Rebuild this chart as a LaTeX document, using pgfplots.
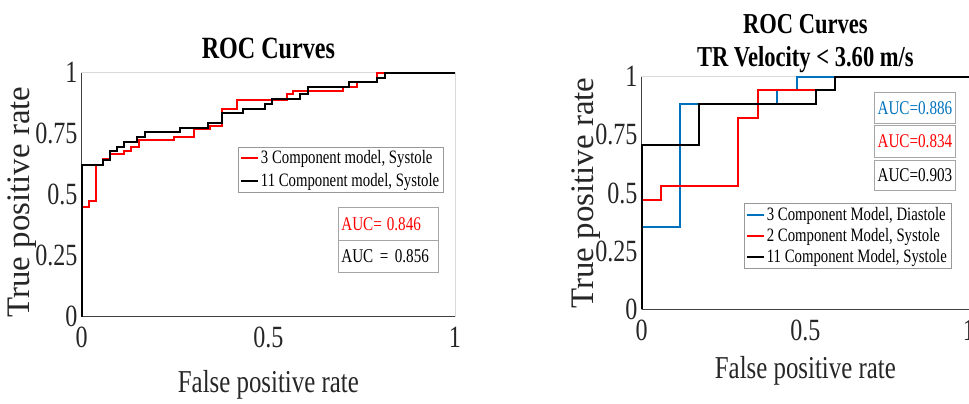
\documentclass[border=0pt]{standalone}
\usepackage{fontspec}
\setmainfont{Liberation Serif}[FakeStretch=0.78]
\newfontfamily\plainserif{Liberation Serif}
\usepackage{pgfplots}
\pgfplotsset{compat=1.18}

\definecolor{mblue}{rgb}{0,0.447,0.741}

\pgfplotsset{
  rocaxis/.style={
    scale only axis,
    clip=false,
    xmin=0, xmax=1, ymin=0, ymax=1,
    xtick={0,0.5,1}, xticklabels={0,0.5,1},
    ytick={0,0.25,0.5,0.75,1}, yticklabels={0,0.25,0.5,0.75,1},
    axis lines*=left,
    axis line style={draw=black!75, line width=0.9bp, -},
    axis background/.style={draw=black!15, line width=0.8bp},
    major tick length=0pt,
    /pgf/number format/assume math mode=true,
    tick label style={font=\fontsize{31}{33}\selectfont, text=black!85},
    yticklabel style={inner xsep=4bp},
    xticklabel style={yshift=-7bp},
    every axis x label/.style={at={(0.5,0)}, anchor=base, font=\fontsize{32}{34}\selectfont, text=black!85},
    every axis y label/.style={rotate=90, anchor=base, font=\plainserif\fontsize{33}{35}\selectfont, text=black!85},
    every axis title/.style={at={(0.5,1)}, align=center, inner sep=0pt, font=\bfseries\fontsize{30}{33}\selectfont},
    legend cell align=left,
    legend image code/.code={\draw[#1, line width=2bp] (0bp,0bp) -- (17bp,0bp);},
    legend style={font=\fontsize{19}{22}\selectfont, draw=black!40, fill=white,
      nodes={inner sep=1.5bp}, inner sep=2.5bp},
    every axis plot/.append style={line width=2bp},
  },
}
\tikzset{aucbox/.style={draw=black!35, anchor=north west, font=\fontsize{19.5}{22}\selectfont}}

\begin{document}
\begin{tikzpicture}
% left panel
\begin{axis}[rocaxis,
  at={(81.7bp,87.3bp)}, anchor=south west,
  width=373.3bp, height=244bp,
  title={ROC Curves},
  title style={anchor=base, yshift=14.4bp, font=\bfseries\fontsize{31}{33}\selectfont},
  xlabel={False positive rate},
  xlabel style={yshift=-76bp},
  ylabel={True positive rate},
  ylabel style={at={(-0.1385,0.47)}},
  legend style={at={(0.969,0.697)}, anchor=north east, row sep=5bp},
]
\addplot[red] coordinates {
  (0,0) (0,0.451) (0.020,0.451) (0.020,0.474) (0.038,0.474) (0.038,0.622)
  (0.056,0.622) (0.056,0.645) (0.076,0.645) (0.076,0.665) (0.112,0.665)
  (0.112,0.679) (0.131,0.679) (0.131,0.697) (0.154,0.697) (0.154,0.724)
  (0.246,0.724) (0.246,0.738) (0.302,0.738) (0.302,0.768) (0.344,0.768)
  (0.344,0.781) (0.377,0.781) (0.377,0.850) (0.415,0.850) (0.415,0.888)
  (0.549,0.888) (0.549,0.911) (0.567,0.911) (0.567,0.926) (0.699,0.926)
  (0.699,0.940) (0.737,0.940) (0.737,0.960) (0.790,0.960) (0.790,1) (1,1)
};
\addlegendentry{3 Component model, Systole}
\addplot[black] coordinates {
  (0,0) (0,0.622) (0.058,0.622) (0.058,0.642) (0.076,0.642) (0.076,0.680)
  (0.094,0.680) (0.094,0.697) (0.112,0.697) (0.112,0.717) (0.149,0.717)
  (0.149,0.738) (0.170,0.738) (0.170,0.758) (0.263,0.758) (0.263,0.775)
  (0.339,0.775) (0.339,0.795) (0.377,0.795) (0.377,0.833) (0.433,0.833)
  (0.433,0.850) (0.491,0.850) (0.491,0.872) (0.509,0.872) (0.509,0.891)
  (0.585,0.891) (0.585,0.911) (0.607,0.911) (0.607,0.943) (0.717,0.943)
  (0.717,0.960) (0.790,0.960) (0.790,0.980) (0.8125,0.980) (0.8125,1) (1,1)
};
\addlegendentry{11 Component model, Systole}
\node[aucbox, text=red, text width=94bp, inner xsep=3bp, minimum height=32.7bp]
  at (rel axis cs:0.687,0.448) {AUC=\hspace{5bp}0.846};
\node[aucbox, text=black, text width=94bp, inner xsep=3bp, minimum height=31.7bp]
  at (rel axis cs:0.687,0.314) {AUC = 0.856};
\end{axis}

% right panel
\begin{axis}[rocaxis,
  at={(641.7bp,94.7bp)}, anchor=south west,
  width=327.3bp, height=232.6bp,
  title={ROC Curves\\TR Velocity < 3.60 m/s},
  title style={anchor=south, yshift=3.7bp, font=\bfseries\fontsize{29}{33}\selectfont},
  xlabel={False positive rate},
  xlabel style={yshift=-68.7bp},
  ylabel={True positive rate},
  ylabel style={at={(-0.146,0.5)}},
  legend style={at={(0.945,0.456)}, anchor=north east, row sep=3.5bp},
]
\addplot[mblue] coordinates {
  (0,0) (0,0.353) (0.117,0.353) (0.117,0.882) (0.414,0.882) (0.414,0.941)
  (0.473,0.941) (0.473,1) (1,1)
};
\addlegendentry{3 Component Model, Diastole}
\addplot[red] coordinates {
  (0,0) (0,0.471) (0.058,0.471) (0.058,0.529) (0.295,0.529) (0.295,0.824)
  (0.354,0.824) (0.354,0.941) (0.590,0.941) (0.590,1) (1,1)
};
\addlegendentry{2 Component Model, Systole}
\addplot[black] coordinates {
  (0,0) (0,0.706) (0.176,0.706) (0.176,0.882) (0.532,0.882) (0.532,0.941)
  (0.590,0.941) (0.590,1) (1,1)
};
\addlegendentry{11 Component Model, Systole}
\node[aucbox, text=mblue, minimum width=79.3bp, minimum height=31.6bp]
  at (rel axis cs:0.71,0.9355) {AUC=0.886};
\node[aucbox, text=red, minimum width=79.3bp, minimum height=32.3bp]
  at (rel axis cs:0.71,0.792) {AUC=0.834};
\node[aucbox, text=black, minimum width=79.3bp, minimum height=30bp]
  at (rel axis cs:0.71,0.642) {AUC=0.903};
\end{axis}
\pgfresetboundingbox
\path[use as bounding box] (0bp,0bp) rectangle (969bp,404bp);
\end{tikzpicture}
\end{document}
